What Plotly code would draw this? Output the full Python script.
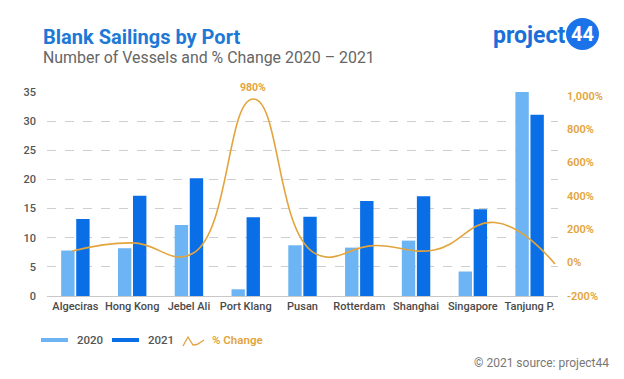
import plotly.graph_objects as go

ports = ["Algeciras", "Hong Kong", "Jebel Ali", "Port Klang", "Pusan",
         "Rotterdam", "Shanghai", "Singapore", "Tanjung P."]
vessels_2020 = [7.8, 8.2, 12.2, 1.15, 8.7, 8.3, 9.5, 4.2, 35.0]
vessels_2021 = [13.2, 17.2, 20.2, 13.5, 13.6, 16.3, 17.1, 14.9, 31.1]
pct_change = [69, 118, 56, 980, 60, 102, 76, 240, -8]
left_ticks = [0, 5, 10, 15, 20, 25, 30, 35]
right_ticks = [-200, 0, 200, 400, 600, 800, 1000]
right_tick_labels = ["-200%", "0%", "200%", "400%", "600%", "800%", "1,000%"]

C2020 = "#6cb4f3"
C2021 = "#0a6fe6"
CLINE = "#e3a43c"
BLUE_T = "#1d78d6"

W, H = 624, 379
X0, X1, YT, YB = 47, 558, 92, 296


def px(x):
    return (x - X0) / (X1 - X0)


def py(y):
    return (YB - y) / (YB - YT)


fig = go.Figure()
fig.add_trace(go.Bar(x=ports, y=vessels_2020, name="2020", marker_color=C2020,
                     marker_line_width=0))
fig.add_trace(go.Bar(x=ports, y=vessels_2021, name="2021", marker_color=C2021,
                     marker_line_width=0))
fig.add_trace(go.Scatter(x=list(range(len(ports))), y=pct_change, name="% Change",
                         mode="lines", line=dict(color=CLINE, width=1.6,
                                                 shape="spline", smoothing=1.3),
                         xaxis="x2", yaxis="y2"))

font = "Roboto, 'Noto Sans', sans-serif"

fig.update_layout(
    width=W, height=H,
    margin=dict(l=X0, r=W - X1, t=YT, b=H - YB),
    paper_bgcolor="white", plot_bgcolor="white",
    showlegend=False,
    barmode="group", bargap=0.47, bargroupgap=0.11,
    font=dict(family=font),
    xaxis=dict(showgrid=False, showline=True, linecolor="#c8c8c8", linewidth=1,
               ticks="", tickfont=dict(size=11, color="#4a4a4a", weight=500),
               fixedrange=True),
    yaxis=dict(range=[0, 35], tickvals=left_ticks, showgrid=True,
               gridcolor="#cfcfcf", griddash="dash", gridwidth=1,
               zeroline=False, ticks="", ticklen=0, ticklabelstandoff=10,
               tickfont=dict(size=11, color="#555555", weight=500)),
    xaxis2=dict(overlaying="x", range=[-0.42, 8.05], visible=False,
                anchor="y2"),
    yaxis2=dict(overlaying="y", side="right", anchor="x2",
                range=[-200, 1022], tickvals=right_ticks,
                ticktext=right_tick_labels, showgrid=False, zeroline=False,
                ticks="", ticklabelstandoff=8,
                tickfont=dict(size=11, color=CLINE, weight=600)),
)

ann = []
shapes = []
# Title & subtitle
ann.append(dict(text="Blank Sailings by Port", x=px(41), y=py(37), xref="paper",
                yref="paper", xanchor="left", yanchor="middle", showarrow=False,
                font=dict(size=20, color=BLUE_T, family=font, weight=700)))
ann.append(dict(text="Number of Vessels and % Change 2020 – 2021", x=px(41),
                y=py(58), xref="paper", yref="paper", xanchor="left",
                yanchor="middle", showarrow=False,
                font=dict(size=15.9, color="#666666", family=font)))
# Logo
ann.append(dict(text="project", x=px(567), y=py(35), xref="paper", yref="paper",
                xanchor="right", yanchor="middle", showarrow=False,
                font=dict(size=23, color="#1a6fd8", family=font, weight=700)))
shapes.append(dict(type="circle", xref="paper", yref="paper",
                   x0=px(566), x1=px(599), y0=py(50), y1=py(18),
                   fillcolor="#1a73e8", line_width=0))
ann.append(dict(text="44", x=px(582.5), y=py(34), xref="paper", yref="paper",
                xanchor="center", yanchor="middle", showarrow=False,
                font=dict(size=20, color="white", family=font, weight=700)))
# Peak label
ann.append(dict(text="980%", x=3, y=980, xref="x2", yref="y2", yshift=12,
                showarrow=False, xanchor="center", yanchor="middle",
                font=dict(size=10.5, color=CLINE, family=font, weight=700)))
# Legend
ly = 340
shapes.append(dict(type="rect", xref="paper", yref="paper", x0=px(41), x1=px(68),
                   y0=py(ly + 2), y1=py(ly - 2), fillcolor=C2020, line_width=0))
ann.append(dict(text="2020", x=px(75), y=py(ly), xref="paper", yref="paper",
                xanchor="left", yanchor="middle", showarrow=False,
                font=dict(size=11.5, color="#555555", family=font, weight=500)))
shapes.append(dict(type="rect", xref="paper", yref="paper", x0=px(112), x1=px(139),
                   y0=py(ly + 2), y1=py(ly - 2), fillcolor=C2021, line_width=0))
ann.append(dict(text="2021", x=px(146), y=py(ly), xref="paper", yref="paper",
                xanchor="left", yanchor="middle", showarrow=False,
                font=dict(size=11.5, color="#555555", family=font, weight=500)))
pts = [(183, 346), (188, 337), (193, 345), (197, 344.5), (204, 340)]
path = "M " + " L ".join(f"{px(a):.5f},{py(b):.5f}" for a, b in pts)
shapes.append(dict(type="path", xref="paper", yref="paper", path=path,
                   line=dict(color=CLINE, width=1.3)))
ann.append(dict(text="% Change", x=px(210), y=py(ly), xref="paper", yref="paper",
                xanchor="left", yanchor="middle", showarrow=False,
                font=dict(size=11.5, color=CLINE, family=font, weight=600)))
# Footer
ann.append(dict(text="© 2021 source: project44", x=px(611), y=py(363),
                xref="paper", yref="paper", xanchor="right", yanchor="middle",
                showarrow=False, font=dict(size=12, color="#777777", family=font)))

fig.update_layout(annotations=ann, shapes=shapes)
fig.write_html("out.html", config={"displayModeBar": False},
               post_script="document.body.style.margin='0';"
                           "document.body.style.overflow='hidden';")
